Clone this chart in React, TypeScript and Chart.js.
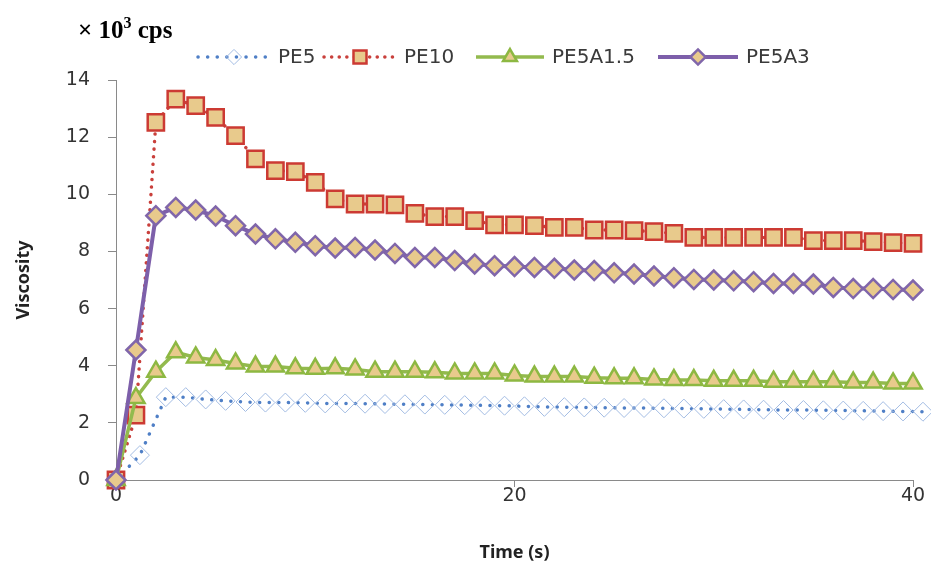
import React, { useEffect, useRef } from "react";
import { Chart, registerables } from "chart.js";
import { drawPoint } from "chart.js/helpers";

Chart.register(...registerables);

// ---- data ----
const TIME = [0, 1, 2, 3, 4, 5, 6, 7, 8, 9, 10, 11, 12, 13, 14, 15, 16, 17, 18, 19, 20,
  21, 22, 23, 24, 25, 26, 27, 28, 29, 30, 31, 32, 33, 34, 35, 36, 37, 38, 39, 40];

const PE5_TIME = [0, 1.2, 2.5, 3.5, 4.5, 5.5, 6.5, 7.5, 8.5, 9.5, 10.5, 11.5, 12.5, 13.5, 14.5,
  15.5, 16.5, 17.5, 18.5, 19.5, 20.5, 21.5, 22.5, 23.5, 24.5, 25.5, 26.5, 27.5, 28.5, 29.5,
  30.5, 31.5, 32.5, 33.5, 34.5, 35.5, 36.5, 37.5, 38.5, 39.5, 40.5];

const PE5 = [0, 0.87, 2.90, 2.90, 2.82, 2.77, 2.73, 2.71, 2.71, 2.70, 2.68, 2.68, 2.67, 2.66,
  2.65, 2.64, 2.63, 2.62, 2.61, 2.60, 2.58, 2.56, 2.55, 2.54, 2.53, 2.52, 2.52, 2.51, 2.50,
  2.49, 2.48, 2.47, 2.46, 2.45, 2.45, 2.44, 2.43, 2.42, 2.41, 2.40, 2.39];

const PE10 = [0, 2.27, 12.52, 13.33, 13.1, 12.69, 12.05, 11.24, 10.83, 10.79, 10.42, 9.84,
  9.66, 9.66, 9.63, 9.33, 9.22, 9.22, 9.08, 8.93, 8.93, 8.9, 8.84, 8.84, 8.75, 8.75, 8.73,
  8.69, 8.63, 8.49, 8.49, 8.49, 8.49, 8.49, 8.49, 8.38, 8.38, 8.38, 8.34, 8.31, 8.28];

const PE5A15 = [0, 2.87, 3.79, 4.47, 4.29, 4.2, 4.08, 3.97, 3.97, 3.91, 3.89, 3.91, 3.87,
  3.79, 3.79, 3.79, 3.77, 3.73, 3.73, 3.73, 3.66, 3.62, 3.62, 3.62, 3.58, 3.56, 3.56, 3.52,
  3.5, 3.5, 3.47, 3.47, 3.47, 3.44, 3.44, 3.44, 3.44, 3.41, 3.41, 3.38, 3.38];

const PE5A3 = [0, 4.55, 9.25, 9.54, 9.45, 9.24, 8.9, 8.61, 8.44, 8.32, 8.2, 8.12, 8.14,
  8.05, 7.93, 7.79, 7.79, 7.68, 7.56, 7.5, 7.47, 7.44, 7.41, 7.35, 7.33, 7.25, 7.21, 7.14,
  7.08, 7.02, 7.0, 6.97, 6.94, 6.88, 6.88, 6.86, 6.74, 6.7, 6.7, 6.67, 6.65];

const SERIES_LABELS = ["PE5", "PE10", "PE5A1.5", "PE5A3"];
const X_TICKS = [0, 20, 40];
const Y_TICKS = [0, 2, 4, 6, 8, 10, 12, 14];

const MARKER_FILL = "#E8CA8C";

const legendPlugin = {
  id: "lineMarkerLegend",
  afterDraw(chart: any) {
    const ctx = chart.ctx as CanvasRenderingContext2D;
    const starts = [198, 324, 476, 658];
    const lineLens = [72, 72, 68, 80];
    const y = 57;
    ctx.save();
    chart.data.datasets.forEach((ds: any, i: number) => {
      const x0 = starts[i];
      const lineLen = lineLens[i];
      ctx.save();
      ctx.strokeStyle = ds.borderColor;
      ctx.lineWidth = ds.borderWidth;
      ctx.lineCap = ds.borderCapStyle || "butt";
      ctx.setLineDash(ds.borderDash || []);
      ctx.beginPath();
      ctx.moveTo(x0, y);
      ctx.lineTo(x0 + lineLen, y);
      ctx.stroke();
      ctx.restore();
      ctx.save();
      ctx.fillStyle = ds.pointBackgroundColor;
      ctx.strokeStyle = ds.pointBorderColor;
      ctx.lineWidth = ds.pointBorderWidth;
      drawPoint(ctx, { pointStyle: ds.pointStyle, radius: ds.pointRadius * 0.8, rotation: 0, borderWidth: ds.pointBorderWidth } as any, x0 + lineLen / 2, y);
      ctx.restore();
      ctx.fillStyle = "#3a3a3a";
      ctx.font = '20px "DejaVu Sans"';
      ctx.textBaseline = "middle";
      ctx.textAlign = "left";
      ctx.fillText(ds.label, x0 + lineLen + 8, y + 1);
    });
    ctx.restore();
  },
};

export default function App() {
  const ref = useRef<HTMLCanvasElement | null>(null);

  useEffect(() => {
    if (!ref.current) return;
    const common = { clip: false as any, tension: 0 };
    const chart = new Chart(ref.current, {
      type: "line",
      data: {
        datasets: [
          {
            ...common,
            label: SERIES_LABELS[0],
            data: PE5_TIME.map((t, i) => ({ x: t, y: PE5[i] })),
            borderColor: "#4F7FC6",
            borderWidth: 3.5,
            borderDash: [0.1, 9.5],
            borderCapStyle: "round",
            pointStyle: "rectRot",
            pointRadius: 9.5,
            pointBackgroundColor: "rgba(255,255,255,0)",
            pointBorderColor: "#A3BCE3",
            pointBorderWidth: 1,
            order: 3,
          },
          {
            ...common,
            label: SERIES_LABELS[1],
            data: TIME.map((t, i) => ({ x: t, y: PE10[i] })),
            borderColor: "#C9403C",
            borderWidth: 3.5,
            borderDash: [0.1, 7.5],
            borderCapStyle: "round",
            pointStyle: "rect",
            pointRadius: 11.5,
            pointBackgroundColor: MARKER_FILL,
            pointBorderColor: "#CC3A33",
            pointBorderWidth: 2.5,
            order: 2,
          },
          {
            ...common,
            label: SERIES_LABELS[2],
            data: TIME.map((t, i) => ({ x: t, y: PE5A15[i] })),
            borderColor: "#93BA4E",
            borderWidth: 3.5,
            pointStyle: "triangle",
            pointRadius: 10,
            pointBackgroundColor: MARKER_FILL,
            pointBorderColor: "#8DB842",
            pointBorderWidth: 2.5,
            order: 1,
          },
          {
            ...common,
            label: SERIES_LABELS[3],
            data: TIME.map((t, i) => ({ x: t, y: PE5A3[i] })),
            borderColor: "#7D5FAA",
            borderWidth: 4,
            pointStyle: "rectRot",
            pointRadius: 9.5,
            pointBackgroundColor: MARKER_FILL,
            pointBorderColor: "#8066AA",
            pointBorderWidth: 2.5,
            order: 0,
          },
        ] as any,
      },
      options: {
        responsive: false,
        animation: false,
        events: [],
        layout: { padding: { left: 0, right: 18, top: 80, bottom: 0 } },
        plugins: { legend: { display: false }, tooltip: { enabled: false } },
        scales: {
          x: {
            type: "linear",
            min: 0,
            max: 40,
            afterBuildTicks: (s: any) => { s.ticks = X_TICKS.map((v) => ({ value: v })); },
            ticks: { font: { family: "DejaVu Sans", size: 19 }, color: "#333333", padding: -2 },
            grid: { drawOnChartArea: false, tickLength: 7, color: "#8A8A8A" },
            border: { color: "#8A8A8A", width: 1 },
            title: {
              display: true,
              text: "Time (s)",
              font: { family: "Noto Sans", weight: "bold", size: 18 },
              color: "#222222",
              padding: { top: 2, bottom: 2 },
            },
            afterFit: (s: any) => { s.height = 86; },
          },
          y: {
            min: 0,
            max: 14,
            afterBuildTicks: (s: any) => { s.ticks = Y_TICKS.map((v) => ({ value: v })); },
            ticks: { font: { family: "DejaVu Sans", size: 19 }, color: "#333333", padding: 18 },
            grid: { drawOnChartArea: false, tickLength: 8, color: "#8A8A8A" },
            border: { color: "#8A8A8A", width: 1 },
            title: {
              display: true,
              text: "Viscosity",
              font: { family: "Noto Sans", weight: "bold", size: 18 },
              color: "#222222",
              padding: { top: 13, bottom: 0 },
            },
            afterFit: (s: any) => { s.width = 116; },
          },
        },
      } as any,
      plugins: [legendPlugin],
    });
    return () => chart.destroy();
  }, []);

  return (
    <div style={{ position: "absolute", left: 0, top: 0, width: 931, height: 566, background: "#ffffff" }}>
      <canvas ref={ref} width={931} height={566} style={{ display: "block" }} />
      <div
        style={{
          position: "absolute",
          left: 78,
          top: 15,
          fontFamily: '"Liberation Serif", serif',
          fontWeight: "bold",
          fontSize: 25,
          lineHeight: "30px",
          color: "#000000",
          whiteSpace: "nowrap",
        }}
      >
        × 10<span style={{ fontSize: 16, position: "relative", top: -10 }}>3</span> cps
      </div>
    </div>
  );
}
